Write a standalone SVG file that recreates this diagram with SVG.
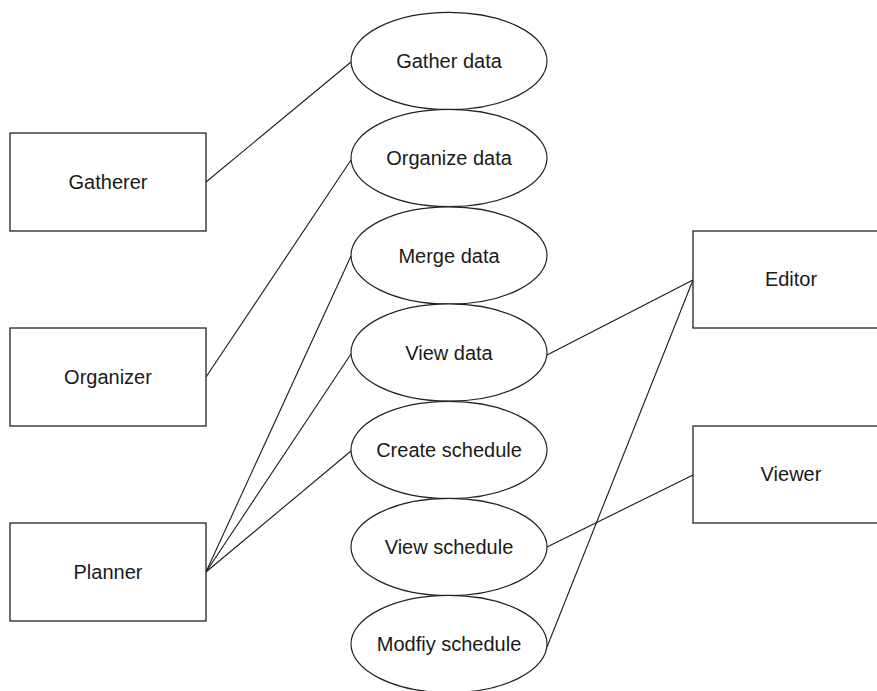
<svg xmlns="http://www.w3.org/2000/svg" width="877" height="691" viewBox="0 0 877 691">
  <style>
    .actor rect { fill: #ffffff; stroke: #222222; stroke-width: 1.3; }
    .usecase ellipse { fill: #ffffff; stroke: #222222; stroke-width: 1.2; }
    text { font-family: "Liberation Sans", Arial, sans-serif; font-size: 20px; fill: #1a1a1a; text-anchor: middle; dominant-baseline: central; }
    .links line { stroke: #1a1a1a; stroke-width: 1.1; fill: none; }
  </style>
  <rect x="0" y="0" width="877" height="691" fill="#ffffff"/>

  <!-- associations between actors and use cases -->
  <g id="connectors" class="links">
    <line x1="206" y1="182" x2="351" y2="62"/>
    <line x1="206" y1="377" x2="351" y2="160"/>
    <line x1="206" y1="572" x2="351" y2="256"/>
    <line x1="206" y1="572" x2="351" y2="354"/>
    <line x1="206" y1="572" x2="351" y2="451"/>
    <line x1="547" y1="355" x2="693" y2="280"/>
    <line x1="547" y1="647" x2="693" y2="280"/>
    <line x1="547" y1="547" x2="693" y2="475"/>
  </g>

  <!-- use cases -->
  <g id="uc-gather-data" class="usecase">
    <ellipse cx="449" cy="61" rx="98" ry="48.6"/>
    <text x="449" y="61">Gather data</text>
  </g>
  <g id="uc-organize-data" class="usecase">
    <ellipse cx="449" cy="158" rx="98" ry="48.6"/>
    <text x="449" y="158">Organize data</text>
  </g>
  <g id="uc-merge-data" class="usecase">
    <ellipse cx="449" cy="255.5" rx="98" ry="48.6"/>
    <text x="449" y="255.5">Merge data</text>
  </g>
  <g id="uc-view-data" class="usecase">
    <ellipse cx="449" cy="352.5" rx="98" ry="48.6"/>
    <text x="449" y="352.5">View data</text>
  </g>
  <g id="uc-create-schedule" class="usecase">
    <ellipse cx="449" cy="450" rx="98" ry="48.6"/>
    <text x="449" y="450">Create schedule</text>
  </g>
  <g id="uc-view-schedule" class="usecase">
    <ellipse cx="449" cy="547" rx="98" ry="48.6"/>
    <text x="449" y="547">View schedule</text>
  </g>
  <g id="uc-modify-schedule" class="usecase">
    <ellipse cx="449" cy="644" rx="98" ry="48.6"/>
    <text x="449" y="644">Modfiy schedule</text>
  </g>

  <!-- actors -->
  <g id="actor-gatherer" class="actor">
    <rect x="10" y="133" width="196" height="98"/>
    <text x="108" y="182">Gatherer</text>
  </g>
  <g id="actor-organizer" class="actor">
    <rect x="10" y="328" width="196" height="98"/>
    <text x="108" y="377">Organizer</text>
  </g>
  <g id="actor-planner" class="actor">
    <rect x="10" y="523" width="196" height="98"/>
    <text x="108" y="572">Planner</text>
  </g>
  <g id="actor-editor" class="actor">
    <rect x="693" y="231" width="196" height="97"/>
    <text x="791" y="279">Editor</text>
  </g>
  <g id="actor-viewer" class="actor">
    <rect x="693" y="426" width="196" height="97"/>
    <text x="791" y="474">Viewer</text>
  </g>
</svg>
